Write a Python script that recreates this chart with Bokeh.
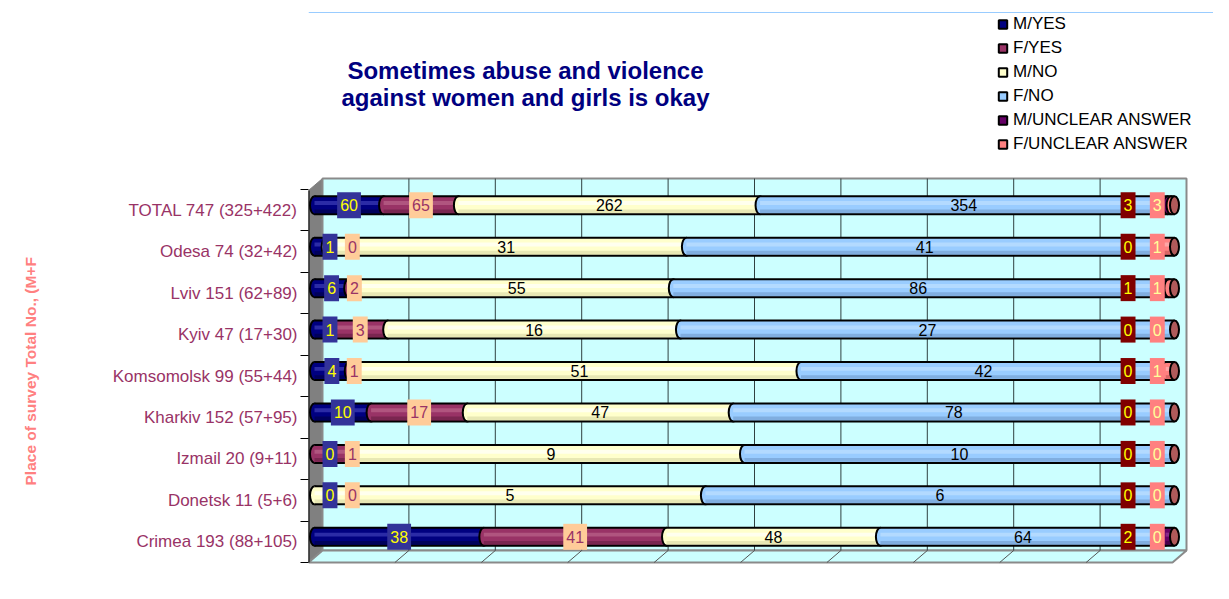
from bokeh.plotting import figure
from bokeh.models import (Range1d, FixedTicker, Label, Legend, LegendItem,
                          ColumnDataSource, Title, LinearAxis)
from bokeh.embed import file_html
from bokeh.resources import INLINE
from bokeh.core.properties import value

# ---------------- data ----------------
places = ["Crimea 193 (88+105)", "Donetsk 11 (5+6)", "Izmail 20 (9+11)",
          "Kharkiv 152 (57+95)", "Komsomolsk 99 (55+44)", "Kyiv 47 (17+30)",
          "Lviv 151 (62+89)", "Odesa 74 (32+42)", "TOTAL 747 (325+422)"]
series = ["M/YES", "F/YES", "M/NO", "F/NO", "M/UNCLEAR ANSWER", "F/UNCLEAR ANSWER"]
m_yes = [38, 0, 0, 10, 4, 1, 6, 1, 60]
f_yes = [41, 0, 1, 17, 1, 3, 2, 0, 65]
m_no = [48, 5, 9, 47, 51, 16, 55, 31, 262]
f_no = [64, 6, 10, 78, 42, 27, 86, 41, 354]
m_unc = [2, 0, 0, 0, 0, 0, 1, 0, 3]
f_unc = [0, 0, 0, 0, 1, 0, 1, 1, 3]
title_lines = ["Sometimes abuse and violence", "against women and girls is okay"]
y_title = "Place of survey Total No., (M+F"

values = [m_yes, f_yes, m_no, f_no, m_unc, f_unc]

# ---------------- styles ----------------
base = ["#000080", "#993366", "#FFFFCC", "#99CCFF", "#660066", "#FF8080"]
light = ["#2B2BA6", "#B0557F", "#FFFFEE", "#B3DAFF", "#8A2A8A", "#FFA6A6"]
dark = ["#00005C", "#7A2650", "#E8E8B4", "#80AEE0", "#4A004A", "#D96666"]
lab_text = ["#FFFF00", "#993366", "black", "black", "#FFFF00", "#FFFF99"]
lab_bg = ["#333399", "#FFCC99", None, None, "#800000", "#FF8080"]
FONT = "Liberation Sans"

W, H = 1213, 583
FRAME_L = 308                 # frame starts at the front-left edge of the 3D box
PX0, PPCT = 314, 8.6          # pixel of 0 % and pixels per percent (front plane)
PYB, PCAT = 562, 41.444       # pixel of category boundary -0.5 and pixels per category


def xd(px):
    return (px - PX0) / PPCT


def yd(py):
    return -0.5 + (PYB - py) / PCAT


X0, X1 = xd(FRAME_L), xd(W)
Y0, Y1 = yd(H), yd(0)

p = figure(width=W, height=H, output_backend="svg", toolbar_location=None,
           x_range=Range1d(X0, X1), y_range=Range1d(Y0, Y1),
           min_border_left=FRAME_L, min_border_right=0,
           min_border_top=0, min_border_bottom=0,
           background_fill_color="white", border_fill_color="white",
           outline_line_color=None)
p.xaxis.visible = False
p.xgrid.visible = False
p.ygrid.visible = False

yax = p.yaxis[0]
yax.ticker = FixedTicker(ticks=list(range(len(places))),
                         minor_ticks=[i - 0.5 for i in range(len(places) + 1)])
yax.major_label_overrides = {i: places[i] for i in range(len(places))}
yax.major_tick_out = 0
yax.major_tick_in = 0
yax.minor_tick_out = 8
yax.minor_tick_in = 0
yax.minor_tick_line_color = "black"
yax.axis_line_color = None
yax.major_label_text_color = "#993366"
yax.major_label_text_font = FONT
yax.major_label_text_font_size = "17px"
yax.major_label_standoff = 3

# blank spacer axis between the category labels and the axis title
spacer_tick = yd(578)
p.add_layout(LinearAxis(ticker=FixedTicker(ticks=[spacer_tick]), major_tick_out=65,
                        major_tick_in=0, minor_tick_out=0, minor_tick_in=0,
                        axis_line_color=None, major_tick_line_color="white",
                        major_label_overrides={spacer_tick: ""},
                        major_label_standoff=0), "left")
p.add_layout(Title(text=y_title, align="left", offset=98, vertical_align="middle",
                   text_font=FONT, text_font_size="15.5px", text_font_style="bold",
                   text_color="#FF8080"), "left")

# ---------------- 3D box ----------------
bxl, bxr, byb, byt = xd(322), xd(1186), yd(550), yd(178)   # back wall
fxl, fxr, fyb, fyt = xd(308), xd(1172), yd(562), yd(190)   # front plane
p.segment(x0=[X0], y0=[yd(12)], x1=[X1], y1=[yd(12)], line_color="#99CCFF", line_width=1)
p.patch([fxl, bxl, bxl, fxl], [fyb, byb, byt, fyt],
        fill_color="#808080", line_color="#808080")
p.quad(left=[bxl], right=[bxr], bottom=[byb], top=[byt],
       fill_color="#CCFFFF", line_color="#8A8A8A", line_width=2)
p.patch([fxl, bxl, bxr, fxr], [fyb, byb, byb, fyb],
        fill_color="#CCFFFF", line_color="#8A8A8A", line_width=2)
gx = [bxl + k * (bxr - bxl) / 10 for k in range(1, 10)]
p.segment(x0=gx, y0=[byb] * 9, x1=gx, y1=[byt] * 9,
          line_color="#2F4040", line_width=1)
p.segment(x0=gx, y0=[byb] * 9, x1=[g - (bxl - fxl) for g in gx], y1=[fyb] * 9,
          line_color="#555555", line_width=1)
p.segment(x0=[fxl], y0=[fyb], x1=[fxl], y1=[fyt], line_color="black", line_width=2)

# ---------------- stacked cylinders ----------------
n = len(places)
totals = [sum(v[i] for v in values) for i in range(n)]
pcts = [[v[i] / totals[i] * 100 for i in range(n)] for v in values]
lefts, rights = [], []
cum = [0.0] * n
for k in range(6):
    lefts.append(cum[:])
    cum = [cum[i] + pcts[k][i] for i in range(n)]
    rights.append(cum[:])

yb = [i + 0.12 for i in range(n)]
BH = 18 / PCAT
CAPW = 9

for k in range(6):
    idx = [i for i in range(n) if values[k][i] > 0]
    p.ellipse(x=[lefts[k][i] for i in idx], y=[yb[i] for i in idx],
              width=CAPW, height=BH, width_units="screen",
              fill_color=base[k], line_color="black", line_width=2)
    p.hbar(y=yb, left=lefts[k], right=rights[k], height=BH,
           fill_color=base[k], line_color=None)
    p.hbar(y=[y + 0.12 * BH for y in yb], left=lefts[k], right=rights[k],
           height=0.22 * BH, fill_color=light[k], line_color=None)
    p.hbar(y=[y - 0.33 * BH for y in yb], left=lefts[k], right=rights[k],
           height=0.2 * BH, fill_color=dark[k], line_color=None)

p.segment(x0=[0] * n, y0=[y + BH / 2 for y in yb], x1=[100] * n,
          y1=[y + BH / 2 for y in yb], line_color="black", line_width=2)
p.segment(x0=[0] * n, y0=[y - BH / 2 for y in yb], x1=[100] * n,
          y1=[y - BH / 2 for y in yb], line_color="black", line_width=2)
p.ellipse(x=[100] * n, y=yb, width=CAPW, height=BH, width_units="screen",
          fill_color="#B05A5A", line_color="black", line_width=2)

# ---------------- data labels ----------------
centers = [[(lefts[k][i] + rights[k][i]) / 2 for i in range(n)] for k in range(6)]
lx = [c[:] for c in centers]
for i in range(n):
    lx[0][i] = max(centers[0][i], 1.8)
    lx[1][i] = max(centers[1][i], lx[0][i] + 2.6)
    lx[5][i] = min(centers[5][i], 98.0)
    lx[4][i] = min(centers[4][i], lx[5][i] - 3.4)

for k in range(6):
    src = ColumnDataSource(dict(x=lx[k], y=yb, t=[str(v) for v in values[k]]))
    kw = {}
    if lab_bg[k] is not None:
        kw = dict(background_fill_color=lab_bg[k],
                  padding=dict(left=3, right=3, top=7, bottom=7))
    p.text(x="x", y="y", text="t", source=src, text_align="center",
           text_baseline="middle", text_font=value(FONT), text_font_size="16px",
           text_color=lab_text[k], **kw)

# ---------------- legend ----------------
items = []
for k in range(6):
    r = p.scatter(x=[X0 - 50], y=[0], marker="square", fill_color=base[k],
                  line_color="black", line_width=2)
    items.append(LegendItem(label=series[k], renderers=[r]))
legend = Legend(items=items, location=(992 - FRAME_L, H - 156.3), padding=0, margin=0,
                spacing=0, glyph_width=21, glyph_height=24, label_height=24,
                label_standoff=0, label_text_font=FONT, label_text_font_size="17px",
                label_text_color="black", label_text_baseline="middle",
                border_line_color=None, background_fill_alpha=0)
p.add_layout(legend)

# ---------------- title ----------------
for line, py in zip(title_lines, [70, 97]):
    p.add_layout(Label(x=xd(525), y=yd(py), text=line, text_align="center",
                       text_baseline="alphabetic", text_font=FONT, text_font_size="24px",
                       text_font_style="bold", text_color="#000080"))

open("out.html", "w").write(file_html(p, INLINE))
